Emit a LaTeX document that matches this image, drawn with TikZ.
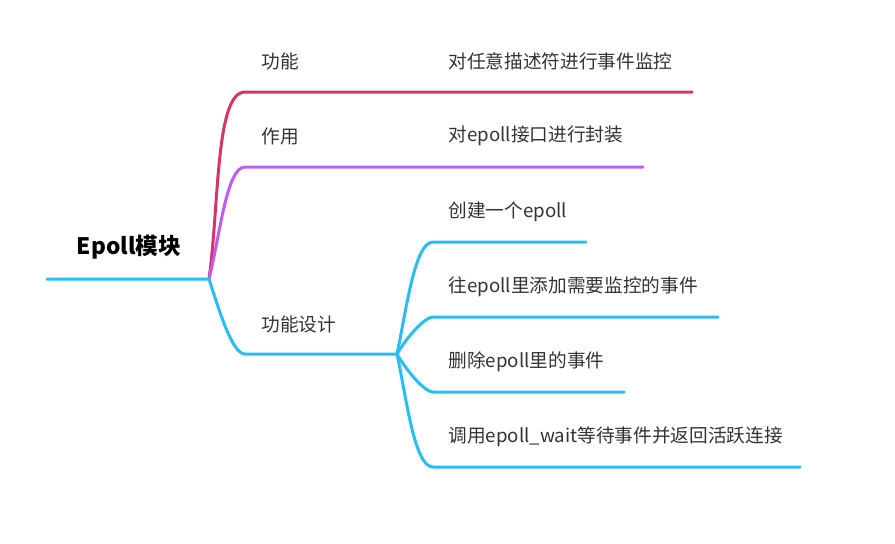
\documentclass[tikz,border=0pt]{standalone}
\usepackage{fontspec}
\setmainfont{Noto Sans CJK SC}
\definecolor{gnred}{HTML}{D8336C}
\definecolor{zypurple}{HTML}{C15BEF}
\definecolor{sjblue}{HTML}{28BDF9}
\definecolor{txtgray}{HTML}{333333}

\begin{document}
\begin{tikzpicture}[x=0.75pt, y=-0.75pt, line width=2.25pt, line cap=round]
	\tikzset{
		lbl/.style={anchor=west, inner sep=0pt, text=txtgray, font=\fontsize{14}{16}\selectfont},
		branch/.style={in=180, in looseness=0.4}
	}
	\useasboundingbox (0,0) rectangle (895,543);

	\node at (129,247) [font=\bfseries\fontsize{17}{20}\selectfont] (epoll) {Epoll模块};
	\node at (260,61) [lbl] (gn) {功能};
	\node at (260,136) [lbl] (zy) {作用};
	\node at (260,324) [lbl] (sj) {功能设计};
	\node at (447,61) [lbl] (gnsub) {对任意描述符进行事件监控};
	\node at (447,136) [lbl] (zysub) {对epoll接口进行封装};
	\node at (447,212) [lbl] (cj) {创建一个epoll};
	\node at (447,287) [lbl] (tj) {往epoll里添加需要监控的事件};
	\node at (447,362) [lbl] (sc) {删除epoll里的事件};
	\node at (447,437) [lbl] (dy) {调用epoll\_wait等待事件并返回活跃连接};

	\coordinate (rootl) at (47,279);
	\coordinate (root) at (209,279);
	\coordinate (gnl) at (245,92);
	\coordinate (gnr) at (692,92);
	\coordinate (zyl) at (245,167);
	\coordinate (zyr) at (643,167);
	\coordinate (sjl) at (245,354);
	\coordinate (sjr) at (397,354);
	\coordinate (cjl) at (433,242);
	\coordinate (cjr) at (586,242);
	\coordinate (tjl) at (433,317);
	\coordinate (tjr) at (718,317);
	\coordinate (scl) at (433,392);
	\coordinate (scr) at (624,392);
	\coordinate (dyl) at (433,467);
	\coordinate (dyr) at (800,467);

	\draw [gnred] (root) to[branch, out=82] (gnl) -- (gnr);
	\draw [zypurple] (root) to[branch, out=76] (zyl) -- (zyr);
	\draw [sjblue] (rootl) -- (root) to[branch, out=-72] (sjl) -- (sjr);
	\draw [sjblue] (sjr) to[branch, out=78] (cjl) -- (cjr);
	\draw [sjblue] (sjr) to[branch, out=60] (tjl) -- (tjr);
	\draw [sjblue] (sjr) to[branch, out=-60] (scl) -- (scr);
	\draw [sjblue] (sjr) to[branch, out=-78] (dyl) -- (dyr);
\end{tikzpicture}
\end{document}
